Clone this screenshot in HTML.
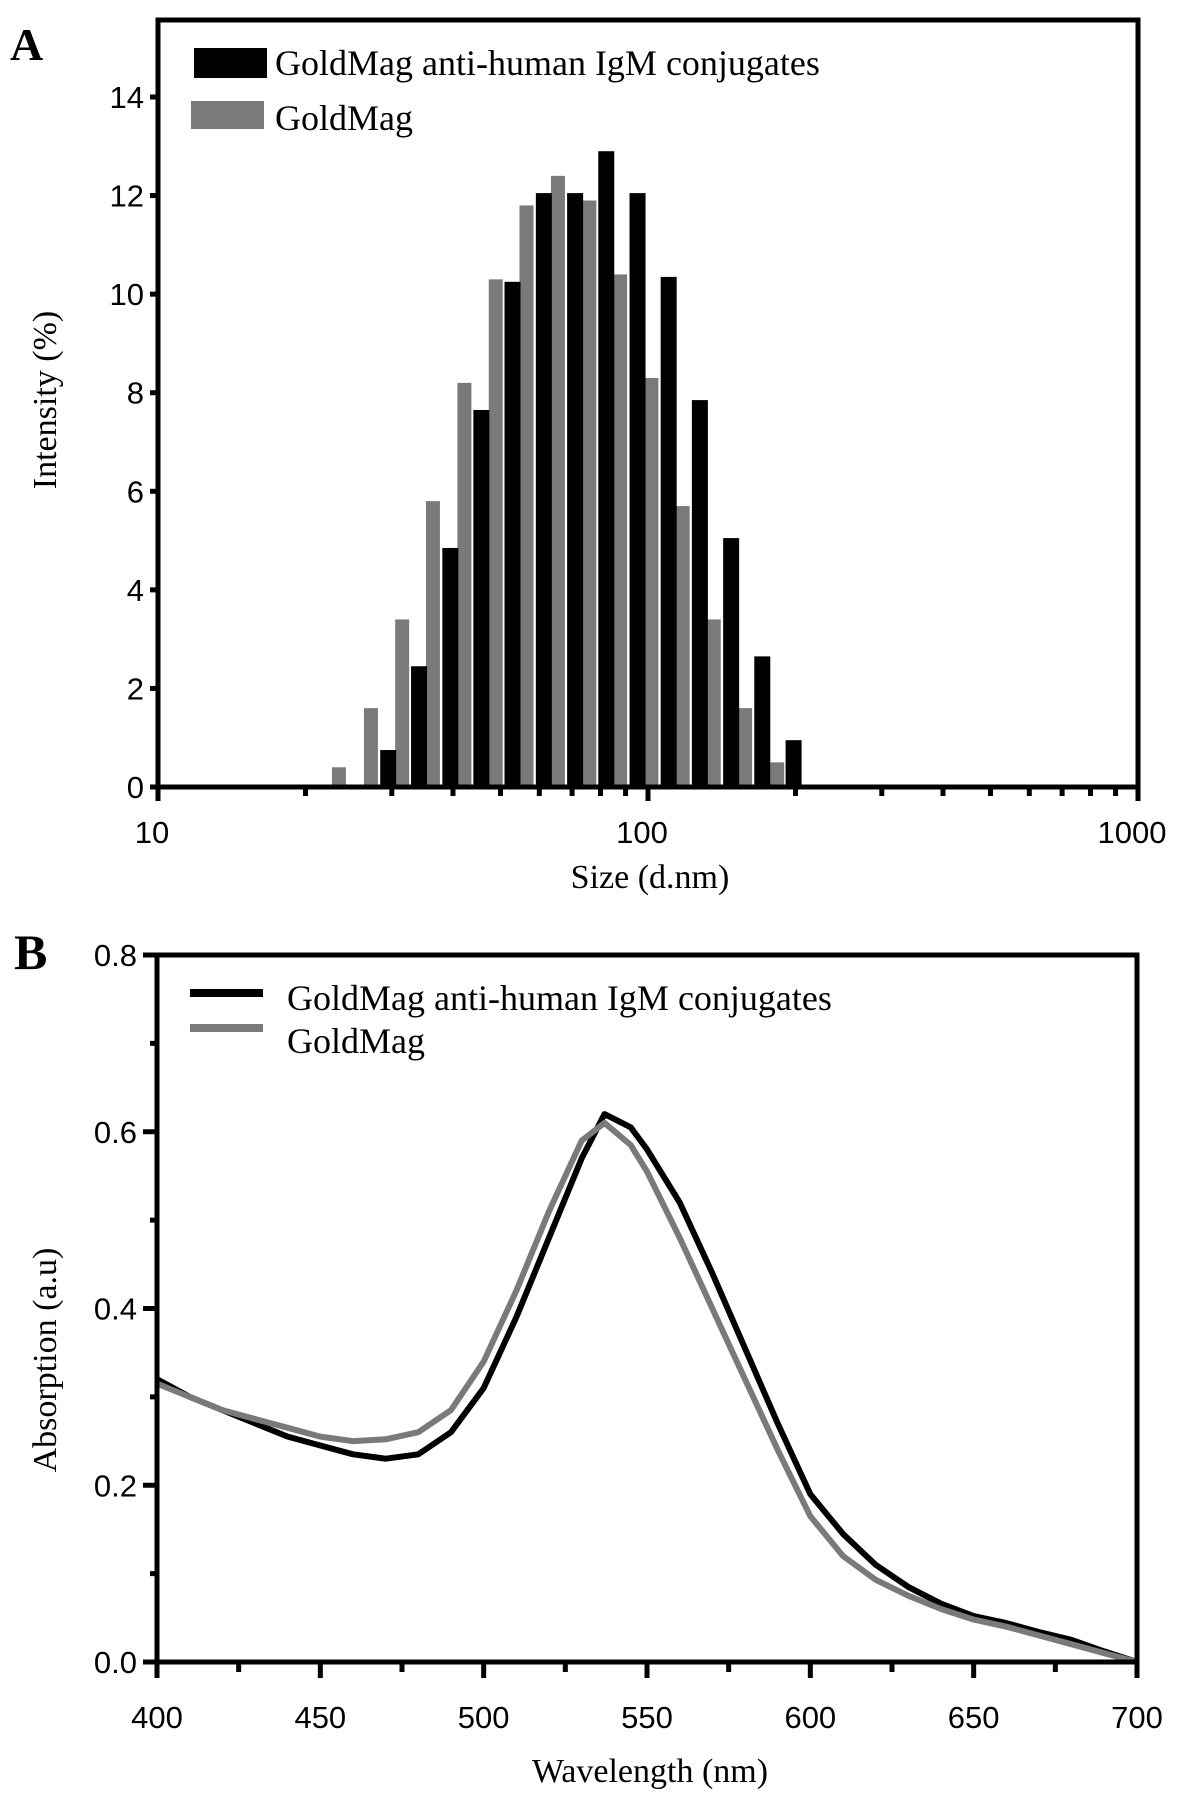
<!DOCTYPE html>
<html><head><meta charset="utf-8"><style>
html,body{margin:0;padding:0;background:#fff;}
svg{display:block;}
.tk{font-family:"Liberation Sans",Arial,sans-serif;font-size:31px;fill:#000;}
.sf{font-family:"Liberation Serif","Times New Roman",serif;fill:#000;}
</style></head><body>
<svg id="fig" width="1181" height="1802" viewBox="0 0 1181 1802" xmlns="http://www.w3.org/2000/svg">
<g id="pa"></g>
<g id="pb"></g>
</svg>
<script>
// Panel A data
const graySizes=[23.4,27.2,31.5,36.4,42.2,48.9,56.5,65.5,75.9,87.7,101.6,117.7,136.2,157.8,183.5];
const grayIntensity=[0.4,1.6,3.4,5.8,8.2,10.3,11.8,12.4,11.9,10.4,8.3,5.7,3.4,1.6,0.5];
const blackSizes=[29.5,34.1,39.5,45.7,52.9,61.3,71.0,82.2,95.2,110.2,127.6,147.8,171.1,198.2];
const blackIntensity=[0.75,2.45,4.85,7.65,10.25,12.05,12.05,12.9,12.05,10.35,7.85,5.05,2.65,0.95];
const yTicksA=[0,2,4,6,8,10,12,14];
const xLabelsA=[10,100,1000];
const xMinorA=[20,30,40,50,60,70,80,90,200,300,400,500,600,700,800,900];
// Panel B data
const wl=[400,410,420,430,440,450,460,470,480,490,500,510,520,530,537,545,550,560,570,580,590,600,610,620,630,640,650,660,670,680,690,700];
const absConj=[0.32,0.30,0.285,0.27,0.255,0.245,0.235,0.23,0.235,0.26,0.31,0.39,0.48,0.57,0.62,0.605,0.58,0.52,0.44,0.355,0.27,0.19,0.145,0.11,0.085,0.066,0.052,0.044,0.034,0.025,0.012,0.0];
const absGold=[0.315,0.30,0.285,0.275,0.265,0.255,0.25,0.252,0.26,0.285,0.34,0.42,0.51,0.59,0.61,0.585,0.555,0.48,0.40,0.32,0.24,0.165,0.12,0.093,0.075,0.06,0.048,0.04,0.03,0.02,0.01,0.0];
const xTicksB=[400,450,500,550,600,650,700];
const xMinorB=[425,475,525,575,625,675];
const yTicksB=[0,0.2,0.4,0.6,0.8];
const yMinorB=[0.1,0.3,0.5,0.7];

const NS="http://www.w3.org/2000/svg";
function mk(parent,tag,attrs,text){const e=document.createElementNS(NS,tag);for(const k in attrs)e.setAttribute(k,attrs[k]);if(text!==undefined)e.textContent=text;parent.appendChild(e);return e;}

// ----- Panel A -----
const pa=document.getElementById('pa');
const AL=158,AR=1138,AT=20,AB=787;
const xA=v=>AL+(AR-AL)/2*Math.log10(v/10);
const yA=v=>AB-(AB-97)/14*v;
let e;
e=mk(pa,'text',{x:10,y:60,class:'sf','font-size':46,'font-weight':'bold'},'A');


graySizes.forEach((s,i)=>{const x=xA(s);e=mk(pa,'rect',{x:x-7,y:yA(grayIntensity[i]),width:14,height:AB-yA(grayIntensity[i]),fill:'#7a7a7a'});

});
blackSizes.forEach((s,i)=>{const x=xA(s);e=mk(pa,'rect',{x:x-8,y:yA(blackIntensity[i]),width:16,height:AB-yA(blackIntensity[i]),fill:'#000'});

});
e=mk(pa,'rect',{x:AL,y:AT,width:AR-AL,height:AB-AT,fill:'none',stroke:'#000','stroke-width':5});


yTicksA.forEach(v=>{const y=yA(v);mk(pa,'line',{x1:AL-8,x2:AL,y1:y,y2:y,stroke:'#000','stroke-width':5});
e=mk(pa,'text',{x:AL-14,y:y+11,class:'tk','text-anchor':'end'},String(v));

});
xLabelsA.forEach(v=>{const x=xA(v);mk(pa,'line',{x1:x,x2:x,y1:AB,y2:AB+14,stroke:'#000','stroke-width':5});
e=mk(pa,'text',{x:x-6,y:AB+56,class:'tk','text-anchor':'middle'},String(v));

});
xMinorA.forEach(v=>{const x=xA(v);mk(pa,'line',{x1:x,x2:x,y1:AB,y2:AB+9,stroke:'#000','stroke-width':5});});
e=mk(pa,'text',{x:650,y:888,class:'sf','font-size':34,'text-anchor':'middle'},'Size (d.nm)');


e=mk(pa,'text',{x:0,y:0,class:'sf','font-size':34,'text-anchor':'middle',transform:'translate(56,400) rotate(-90)'},'Intensity (%)');


e=mk(pa,'rect',{x:194,y:48,width:73,height:30,fill:'#000'});


e=mk(pa,'text',{x:275,y:75,class:'sf','font-size':36},'GoldMag anti-human IgM conjugates');


e=mk(pa,'rect',{x:191,y:101,width:73,height:28,fill:'#7a7a7a'});


e=mk(pa,'text',{x:275,y:130,class:'sf','font-size':36},'GoldMag');



// ----- Panel B -----
const pb=document.getElementById('pb');
const BL=157,BR=1137,BT=955,BB=1662;
const xB=v=>BL+(v-400)/300*(BR-BL);
const yB=v=>BB-v/0.8*(BB-BT);
e=mk(pb,'text',{x:14,y:969,class:'sf','font-size':50,'font-weight':'bold'},'B');


function line(vals,color,name){const d=wl.map((w,i)=>(i?'L':'M')+xB(w).toFixed(1)+','+yB(vals[i]).toFixed(1)).join(' ');
const p=mk(pb,'path',{d:d,fill:'none',stroke:color,'stroke-width':6,'stroke-linejoin':'round'});

}
line(absConj,'#000','line-conjugates');
line(absGold,'#7a7a7a','line-goldmag');
e=mk(pb,'rect',{x:BL,y:BT,width:BR-BL,height:BB-BT,fill:'none',stroke:'#000','stroke-width':5});


yTicksB.forEach(v=>{const y=yB(v);mk(pb,'line',{x1:BL-14,x2:BL,y1:y,y2:y,stroke:'#000','stroke-width':5});
e=mk(pb,'text',{x:BL-20,y:y+11,class:'tk','text-anchor':'end'},v.toFixed(1));

});
yMinorB.forEach(v=>{const y=yB(v);mk(pb,'line',{x1:BL-7,x2:BL,y1:y,y2:y,stroke:'#000','stroke-width':5});});
xTicksB.forEach(v=>{const x=xB(v);mk(pb,'line',{x1:x,x2:x,y1:BB,y2:BB+16,stroke:'#000','stroke-width':5});
e=mk(pb,'text',{x:x,y:BB+66,class:'tk','text-anchor':'middle'},String(v));

});
xMinorB.forEach(v=>{const x=xB(v);mk(pb,'line',{x1:x,x2:x,y1:BB,y2:BB+10,stroke:'#000','stroke-width':5});});
e=mk(pb,'text',{x:650,y:1782,class:'sf','font-size':34,'text-anchor':'middle'},'Wavelength (nm)');


e=mk(pb,'text',{x:0,y:0,class:'sf','font-size':34,'text-anchor':'middle',transform:'translate(56,1360) rotate(-90)'},'Absorption (a.u)');


e=mk(pb,'line',{x1:190,x2:263,y1:993,y2:993,stroke:'#000','stroke-width':8});


e=mk(pb,'text',{x:287,y:1010,class:'sf','font-size':36},'GoldMag anti-human IgM conjugates');


e=mk(pb,'line',{x1:190,x2:263,y1:1028,y2:1028,stroke:'#7a7a7a','stroke-width':8});


e=mk(pb,'text',{x:287,y:1053,class:'sf','font-size':36},'GoldMag');


</script>
</body></html>
